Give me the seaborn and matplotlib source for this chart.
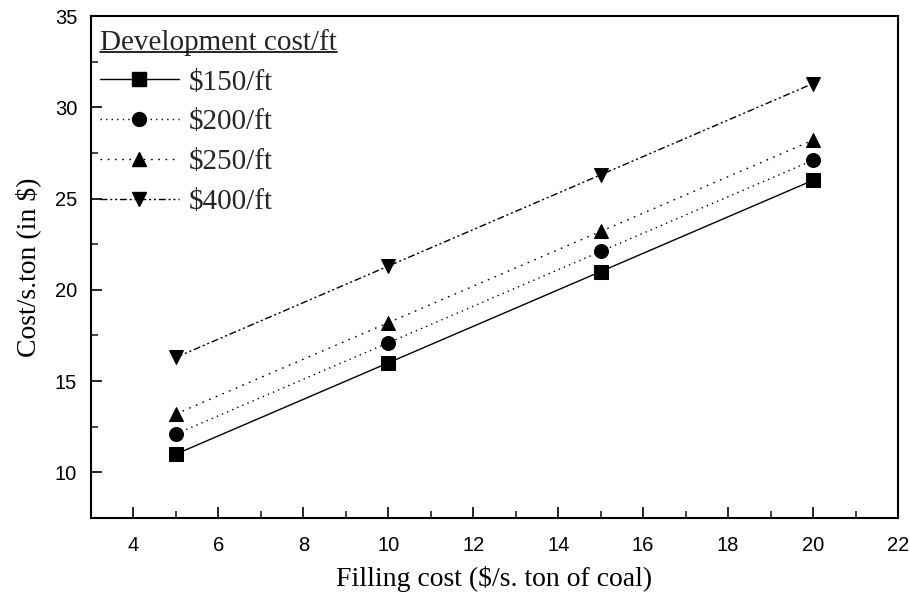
import matplotlib
matplotlib.use("Agg")
import matplotlib.pyplot as plt
import seaborn as sns
import pandas as pd
from matplotlib.ticker import MultipleLocator
from matplotlib.lines import Line2D

filling_cost = [5, 10, 15, 20]
series_names = ["$150/ft", "$200/ft", "$250/ft", "$400/ft"]
cost_150 = [11.0, 16.0, 21.0, 26.0]
cost_200 = [12.1, 17.1, 22.1, 27.1]
cost_250 = [13.2, 18.2, 23.2, 28.2]
cost_400 = [16.3, 21.3, 26.3, 31.3]

rows = []
for name, vals in zip(series_names, [cost_150, cost_200, cost_250, cost_400]):
    for x, y in zip(filling_cost, vals):
        rows.append({"x": x, "y": y, "series": name})
df = pd.DataFrame(rows)

sns.set_theme(style="ticks")
plt.rcParams['font.family'] = ['Liberation Serif', 'DejaVu Serif']
plt.rcParams['axes.formatter.use_mathtext'] = False

fig = plt.figure(figsize=(9.1, 6.0), dpi=100)
ax = fig.add_axes([91 / 910, 1 - 518 / 600, (898 - 91) / 910, (518 - 16) / 600])

markers = {"$150/ft": "s", "$200/ft": "o", "$250/ft": "^", "$400/ft": "v"}
dashes = {"$150/ft": "", "$200/ft": (1, 3), "$250/ft": (1.2, 4), "$400/ft": (5, 2, 1.5, 2, 1.5, 2)}
palette = {k: "black" for k in series_names}

sns.lineplot(data=df, x="x", y="y", hue="series", style="series",
             markers=markers, dashes=dashes, palette=palette,
             markersize=10, markeredgecolor="black", linewidth=1.0,
             ax=ax, legend=False)

ax.set_xlim(3, 22)
ax.set_ylim(7.5, 35)
ax.xaxis.set_minor_locator(MultipleLocator(1))
ax.yaxis.set_minor_locator(MultipleLocator(2.5))
ax.set_xticks(list(range(4, 23, 2)))
ax.set_yticks([10, 15, 20, 25, 30, 35])
ax.tick_params(axis="both", which="major", direction="in", length=8, width=1.2,
               top=False, right=False, labelsize=14.5, colors="black")
ax.tick_params(axis="x", which="major", pad=13)
ax.tick_params(axis="y", which="major", pad=10)
ax.tick_params(axis="both", which="minor", direction="in", length=5, width=1.2,
               top=False, right=False)
for lab in ax.get_xticklabels() + ax.get_yticklabels():
    lab.set_family(['Liberation Sans Narrow', 'Liberation Sans', 'DejaVu Sans'])
for sp in ax.spines.values():
    sp.set_linewidth(1.5)
    sp.set_color("black")

ax.set_xlabel("Filling cost ($/s. ton of coal)", fontsize=20, labelpad=8, color="black")
ax.set_ylabel("Cost/s.ton (in $)", fontsize=20, labelpad=10, color="black")

handles = []
for name in series_names:
    d = dashes[name]
    h = Line2D([], [], color="black", marker=markers[name], markersize=10, linewidth=1.0)
    if d:
        h.set_dashes(d)
    handles.append(h)

leg = ax.legend(handles, series_names, title="Development cost/ft", loc="upper left",
                frameon=False, fontsize=21, title_fontsize=21, handlelength=2.7,
                labelspacing=0.46, handletextpad=0.35, borderaxespad=0.1,
                borderpad=0.2, alignment="left", bbox_to_anchor=(0.0, 0.992))

fig.canvas.draw()
tt = leg.get_title()
bb = tt.get_window_extent(fig.canvas.get_renderer())
inv = fig.transFigure.inverted()
(x0, y0), (x1, y1) = inv.transform([[bb.x0, bb.y0], [bb.x1, bb.y0]])
fig.add_artist(Line2D([x0, x1], [y0 + 0.006, y0 + 0.006], transform=fig.transFigure,
                      color="black", linewidth=1.2))

fig.savefig("out.png", dpi=100)
